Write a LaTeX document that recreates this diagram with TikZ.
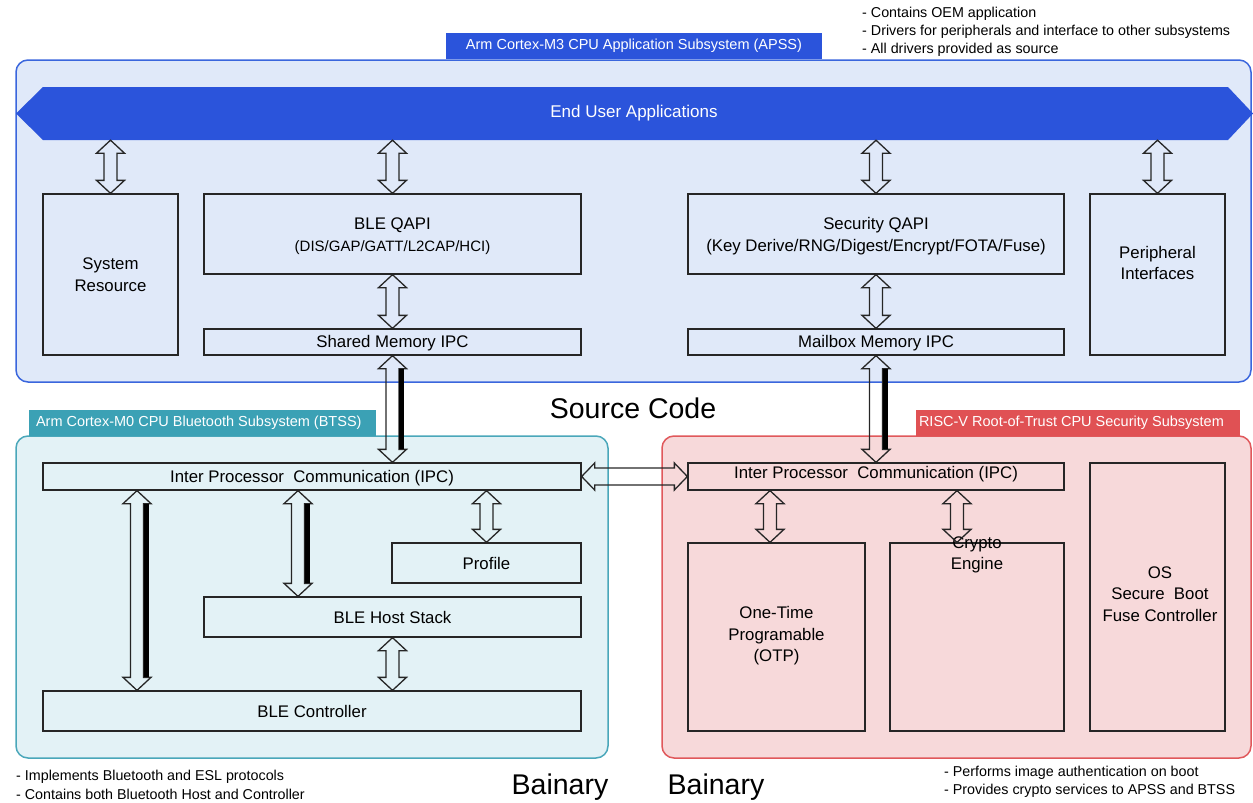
\documentclass[tikz,border=0pt]{standalone}
\usepackage{fontspec}
\setmainfont{Liberation Sans}
\usetikzlibrary{calc}
\definecolor{apssfill}{HTML}{E0E9F9}
\definecolor{apssline}{HTML}{3A66DD}
\definecolor{apssdark}{HTML}{2B54DB}
\definecolor{btfill}{HTML}{E3F2F6}
\definecolor{btline}{HTML}{4AA7BA}
\definecolor{btdark}{HTML}{3BA1B5}
\definecolor{rvfill}{HTML}{F7D9DA}
\definecolor{rvline}{HTML}{E0585B}
\definecolor{rvdark}{HTML}{E05154}
\tikzset{
 region/.style={line width=1.5pt, rounded corners=12pt, inner sep=0},
 tabbox/.style={inner sep=0, draw=none},
 box/.style={draw=black!85, line width=1.3pt, inner sep=0},
 txt/.style={inner sep=0, align=center, font=\fontsize{16.8}{21.5}\selectfont},
 tabtxt/.style={inner sep=0, text=white, font=\fontsize{14.5}{16}\selectfont},
 note/.style={inner sep=0, anchor=west, font=\fontsize{14.3}{16}\selectfont},
 big/.style={inner sep=0, font=\fontsize{28.5}{30}\selectfont},
 barrow/.style={draw=black!85, line width=1.3pt, line join=miter},
 thickbar/.style={line width=5pt, draw=black},
}
% vertical hollow double arrow: #1 top point, #2 bottom point
\newcommand\vdbl[2]{\draw[barrow] let \p1=#1, \p2=#2 in
 (\x1,\y1) -- (\x1+14pt,\y1-13pt) -- (\x1+6.5pt,\y1-13pt) -- (\x1+6.5pt,\y2+13pt) -- (\x1+14pt,\y2+13pt) -- (\x1,\y2)
 -- (\x1-14pt,\y2+13pt) -- (\x1-6.5pt,\y2+13pt) -- (\x1-6.5pt,\y1-13pt) -- (\x1-14pt,\y1-13pt) -- cycle;}
% horizontal hollow double arrow: #1 left point, #2 right point
\newcommand\hdbl[2]{\draw[barrow] let \p1=#1, \p2=#2 in
 (\x1,\y1) -- (\x1+13pt,\y1+13.5pt) -- (\x1+13pt,\y1+8.5pt) -- (\x2-13pt,\y1+8.5pt) -- (\x2-13pt,\y1+13.5pt) -- (\x2,\y1)
 -- (\x2-13pt,\y1-13.5pt) -- (\x2-13pt,\y1-8.5pt) -- (\x1+13pt,\y1-8.5pt) -- (\x1+13pt,\y1-13.5pt) -- cycle;}
\begin{document}
\begin{tikzpicture}[x=1pt,y=-1pt]
\useasboundingbox (0,0) rectangle (1253,803);
% regions
\node[region, draw=apssline, fill=apssfill, minimum width=1235, minimum height=322] (apss) at (633.5,221) {};
\node[region, draw=btline, fill=btfill, minimum width=592, minimum height=322] (btss) at (312,597) {};
\node[region, draw=rvline, fill=rvfill, minimum width=589, minimum height=322] (rvss) at (956.5,597) {};
% tabs
\node[tabbox, fill=apssdark, minimum width=376, minimum height=26] (apsstab) at (634,46) {};
\node[tabtxt] (apsstabT) at (apsstab.center) {Arm Cortex-M3 CPU Application Subsystem (APSS)};
\node[tabbox, fill=btdark, minimum width=347, minimum height=26] (bttab) at (202.5,422.5) {};
\node[tabtxt, anchor=west] (bttabT) at ([xshift=7]bttab.west) {Arm Cortex-M0 CPU Bluetooth Subsystem (BTSS)};
\node[tabbox, fill=rvdark, minimum width=324, minimum height=26] (rvtab) at (1078,422.5) {};
\node[tabtxt, anchor=west] (rvtabT) at ([xshift=3]rvtab.west) {RISC-V Root-of-Trust CPU Security Subsystem};
% banner
\fill[apssdark] (16,113.5) -- (43,87) -- (1228,87) -- (1253,113.5) -- (1228,140) -- (43,140) -- cycle;
\node[inner sep=0, minimum width=1190, minimum height=53, text=white, font=\fontsize{17}{20}\selectfont] (eua) at (634,113.5) {End User Applications};
% APSS boxes
\node[box, minimum width=135, minimum height=161] (sysres) at (110.5,274.5) {};
\node[txt] (sysresT) at (sysres.center) {System\\Resource};
\node[box, minimum width=377, minimum height=80] (bleqapi) at (392.5,234) {};
\node[txt] (bleqapiT) at ([yshift=-2]bleqapi.center) {BLE QAPI\\{\fontsize{15}{20}\selectfont(DIS/GAP/GATT/L2CAP/HCI)}};
\node[box, minimum width=376, minimum height=80] (secqapi) at (876,234) {};
\node[txt] (secqapiT) at ([yshift=-2]secqapi.center) {Security QAPI\\(Key Derive/RNG/Digest/Encrypt/FOTA/Fuse)};
\node[box, minimum width=135, minimum height=161] (periph) at (1157.5,274.5) {};
\node[txt] (periphT) at ([yshift=11.5]periph.center) {Peripheral\\Interfaces};
\node[box, minimum width=377, minimum height=26] (shmem) at (392.5,342) {};
\node[txt] (shmemT) at ([yshift=-1.5]shmem.center) {Shared Memory IPC};
\node[box, minimum width=376, minimum height=26] (mbmem) at (876,342) {};
\node[txt] (mbmemT) at ([yshift=-1.5]mbmem.center) {Mailbox Memory IPC};
% BTSS boxes
\node[box, minimum width=538, minimum height=27] (btipc) at (312,476.5) {};
\node[txt] (btipcT) at ([yshift=-2]btipc.center) {Inter Processor\ \ Communication (IPC)};
\node[box, minimum width=189, minimum height=40, txt] (profile) at (486.5,563) {Profile};
\node[box, minimum width=377, minimum height=40, txt] (host) at (392.5,617) {BLE Host Stack};
\node[box, minimum width=538, minimum height=40, txt] (ctrl) at (312,711) {BLE Controller};
% RISC-V boxes
\node[box, minimum width=376, minimum height=27] (rvipc) at (876,476.5) {};
\node[txt] (rvipcT) at ([yshift=2]rvipc.center) {Inter Processor\ \ Communication (IPC)};
\node[box, minimum width=177, minimum height=188] (otp) at (776.5,637) {};
\node[txt] (otpT) at (776.5,636) {One-Time\\Programable\\(OTP)};
\node[box, minimum width=174, minimum height=188] (crypto) at (977,637) {};
\node[txt] (cryptoT) at (977,555) {Crypto\\Engine};
\node[box, minimum width=135, minimum height=268] (osbox) at (1157.5,597) {};
\node[txt] (osT) at (1160,594) {OS\\Secure\ \ Boot\\Fuse Controller};
% arrows APSS
\vdbl{(eua.south -| sysres.north)}{(sysres.north)}
\vdbl{(eua.south -| bleqapi.north)}{(bleqapi.north)}
\vdbl{(eua.south -| secqapi.north)}{(secqapi.north)}
\vdbl{(eua.south -| periph.north)}{(periph.north)}
\vdbl{(bleqapi.south)}{(shmem.north)}
\vdbl{(secqapi.south)}{(mbmem.north)}
% inter-subsystem
\vdbl{(shmem.south)}{(btipc.north -| shmem.south)}
\draw[thickbar] ($(shmem.south)+(9,13)$) -- ($(btipc.north -| shmem.south)+(9,-13)$);
\vdbl{(mbmem.south)}{(rvipc.north)}
\draw[thickbar] ($(mbmem.south)+(9,13)$) -- ($(rvipc.north)+(9,-13)$);
\hdbl{(btipc.east)}{(rvipc.west)}
% BTSS arrows
\coordinate (a1) at (137,0);
\coordinate (a2) at (298,0);
\vdbl{(btipc.south -| a1)}{(ctrl.north -| a1)}
\draw[thickbar] ($(btipc.south -| a1)+(9,13)$) -- ($(ctrl.north -| a1)+(9,-13)$);
\vdbl{(btipc.south -| a2)}{(host.north -| a2)}
\draw[thickbar] ($(btipc.south -| a2)+(9,13)$) -- ($(host.north -| a2)+(9,-13)$);
\vdbl{(btipc.south -| profile.north)}{(profile.north)}
\vdbl{(host.south)}{(ctrl.north -| host.south)}
% RISC-V arrows
\coordinate (a3) at (770,0);
\coordinate (a4) at (957,0);
\vdbl{(rvipc.south -| a3)}{(otp.north -| a3)}
\vdbl{(rvipc.south -| a4)}{(crypto.north -| a4)}
% texts
\node[big] (src) at (633,408) {Source Code};
\node[big] (bin1) at (560,787) {Bainary};
\node[big] (bin2) at (716,787) {Bainary};
\node[note] (n1) at (862,14) {- Contains OEM application};
\node[note] (n2) at (862,32) {- Drivers for peripherals and interface to other subsystems};
\node[note] (n3) at (862,50) {- All drivers provided as source};
\node[note] (n4) at (16,777) {- Implements Bluetooth and ESL protocols};
\node[note] (n5) at (16,794) {- Contains both Bluetooth Host and Controller};
\node[note] (n6) at (944,773) {- Performs image authentication on boot};
\node[note] (n7) at (944,791) {- Provides crypto services to APSS and BTSS};
\end{tikzpicture}
\end{document}
